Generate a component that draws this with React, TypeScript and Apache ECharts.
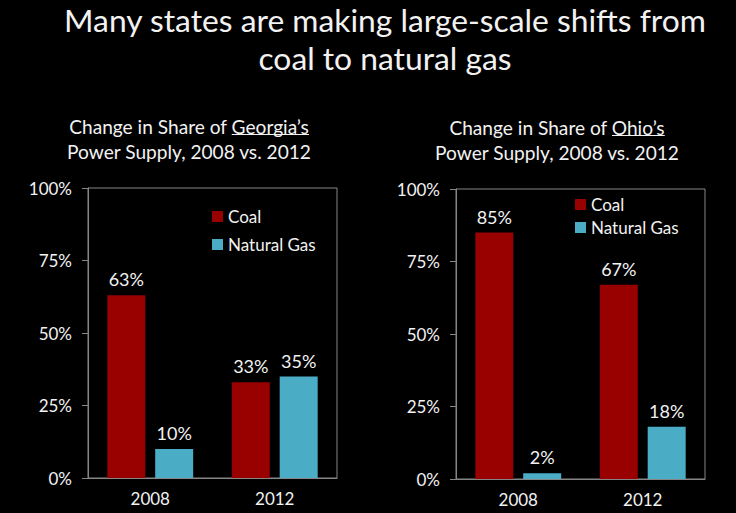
import React, { useEffect, useRef } from "react";
import * as echarts from "echarts";

const categories = ["2008", "2012"];
const seriesNames = ["Coal", "Natural Gas"];
const georgiaCoal = [63, 33];
const georgiaGas = [10, 35];
const ohioCoal = [85, 67];
const ohioGas = [2, 18];

const mainTitle = ["Many states are making large-scale shifts from", "coal to natural gas"];
const georgiaTitle = ["Change in Share of ", "Georgia\u2019s", "Power Supply, 2008 vs. 2012"];
const ohioTitle = ["Change in Share of ", "Ohio\u2019s", "Power Supply, 2008 vs. 2012"];

const FONT = "Lato";
const COAL = "#990000";
const GAS = "#4BACC6";
const AXIS = "#868686";
const TXT = "#f2f2f2";

function measure(text: string, size: number) {
  const c = document.createElement("canvas").getContext("2d")!;
  c.font = `${size}px ${FONT}`;
  return c.measureText(text).width;
}
function fit(text: string, target: number) {
  return (20 * target) / measure(text, 20);
}

function subtitle(parts: string[], cx: number, y1: number, y2: number, size: number) {
  const full = parts[0] + parts[1];
  const w = measure(full, size);
  const pre = measure(parts[0], size);
  const start = cx - w / 2;
  const font = { fontFamily: FONT, fontSize: size, fill: TXT };
  return [
    { type: "text", x: cx, y: y1, style: { ...font, text: full, textAlign: "center", textVerticalAlign: "middle" } },
    { type: "text", x: cx, y: y2, style: { ...font, text: parts[2], textAlign: "center", textVerticalAlign: "middle" } },
    {
      type: "line",
      shape: { x1: start + pre, y1: y1 + 8.5, x2: start + w, y2: y1 + 8.5 },
      style: { stroke: TXT, lineWidth: 1.2 },
    },
  ];
}

export default function App() {
  const ref = useRef<HTMLDivElement>(null);
  useEffect(() => {
    const chart = echarts.init(ref.current!, null, { renderer: "svg" });
    const tSize = fit(mainTitle[0], 643);
    const sSize = fit(georgiaTitle[2], 245);
    const yAxisBase = {
      type: "value",
      min: 0,
      max: 100,
      interval: 25,
      axisLine: { show: true, lineStyle: { color: AXIS, width: 1 } },
      axisTick: { show: true, length: 6, lineStyle: { color: AXIS } },
      splitLine: { show: false },
      axisLabel: { formatter: "{value}%", color: TXT, fontSize: 17, fontFamily: FONT, margin: 16 },
    };
    const xAxisBase = {
      type: "category",
      data: categories,
      axisLine: { show: true, lineStyle: { color: AXIS, width: 1 } },
      axisTick: { show: false },
      axisLabel: { color: TXT, fontSize: 17, fontFamily: FONT, margin: 12 },
    };
    const label = {
      show: true,
      position: "top",
      distance: 7,
      formatter: "{c}%",
      color: TXT,
      fontSize: 18,
      fontFamily: FONT,
    };
    const bar = (name: string, data: number[], idx: number, color: string) => ({
      type: "bar",
      name,
      data,
      xAxisIndex: idx,
      yAxisIndex: idx,
      barWidth: 38,
      barGap: "26%",
      itemStyle: { color },
      label,
    });
    const legendBase = {
      orient: "vertical",
      data: seriesNames,
      icon: "rect",
      itemWidth: 11,
      itemHeight: 11,
      padding: 0,
      selectedMode: false,
      textStyle: { color: TXT, fontSize: 17, fontFamily: FONT, padding: [0, 0, 0, 0] },
    };
    const titleStyle = { fontFamily: FONT, fontSize: tSize, fill: TXT, textAlign: "center", textVerticalAlign: "middle" };
    chart.setOption({
      animation: false,
      backgroundColor: "#000000",
      textStyle: { fontFamily: FONT },
      grid: [
        { left: 88, top: 188, width: 249, height: 290, show: true, borderColor: AXIS, borderWidth: 1, backgroundColor: "transparent" },
        { left: 456, top: 189, width: 249, height: 290, show: true, borderColor: AXIS, borderWidth: 1, backgroundColor: "transparent" },
      ],
      xAxis: [
        { ...xAxisBase, gridIndex: 0 },
        { ...xAxisBase, gridIndex: 1 },
      ],
      yAxis: [
        { ...yAxisBase, gridIndex: 0 },
        { ...yAxisBase, gridIndex: 1 },
      ],
      legend: [
        { ...legendBase, left: 212, top: 208, itemGap: 11 },
        { ...legendBase, left: 575, top: 196, itemGap: 6 },
      ],
      series: [
        bar(seriesNames[0], georgiaCoal, 0, COAL),
        bar(seriesNames[1], georgiaGas, 0, GAS),
        bar(seriesNames[0], ohioCoal, 1, COAL),
        bar(seriesNames[1], ohioGas, 1, GAS),
      ],
      graphic: [
        { type: "text", x: 385, y: 20, style: { ...titleStyle, text: mainTitle[0] } },
        { type: "text", x: 385, y: 58, style: { ...titleStyle, text: mainTitle[1] } },
        ...subtitle(georgiaTitle, 189, 126, 151, sSize),
        ...subtitle(ohioTitle, 557, 127, 152, sSize),
      ],
    });
    return () => chart.dispose();
  }, []);
  return (
    <div
      ref={ref}
      style={{ position: "fixed", left: 0, top: 0, width: 736, height: 513, background: "#000" }}
    />
  );
}
